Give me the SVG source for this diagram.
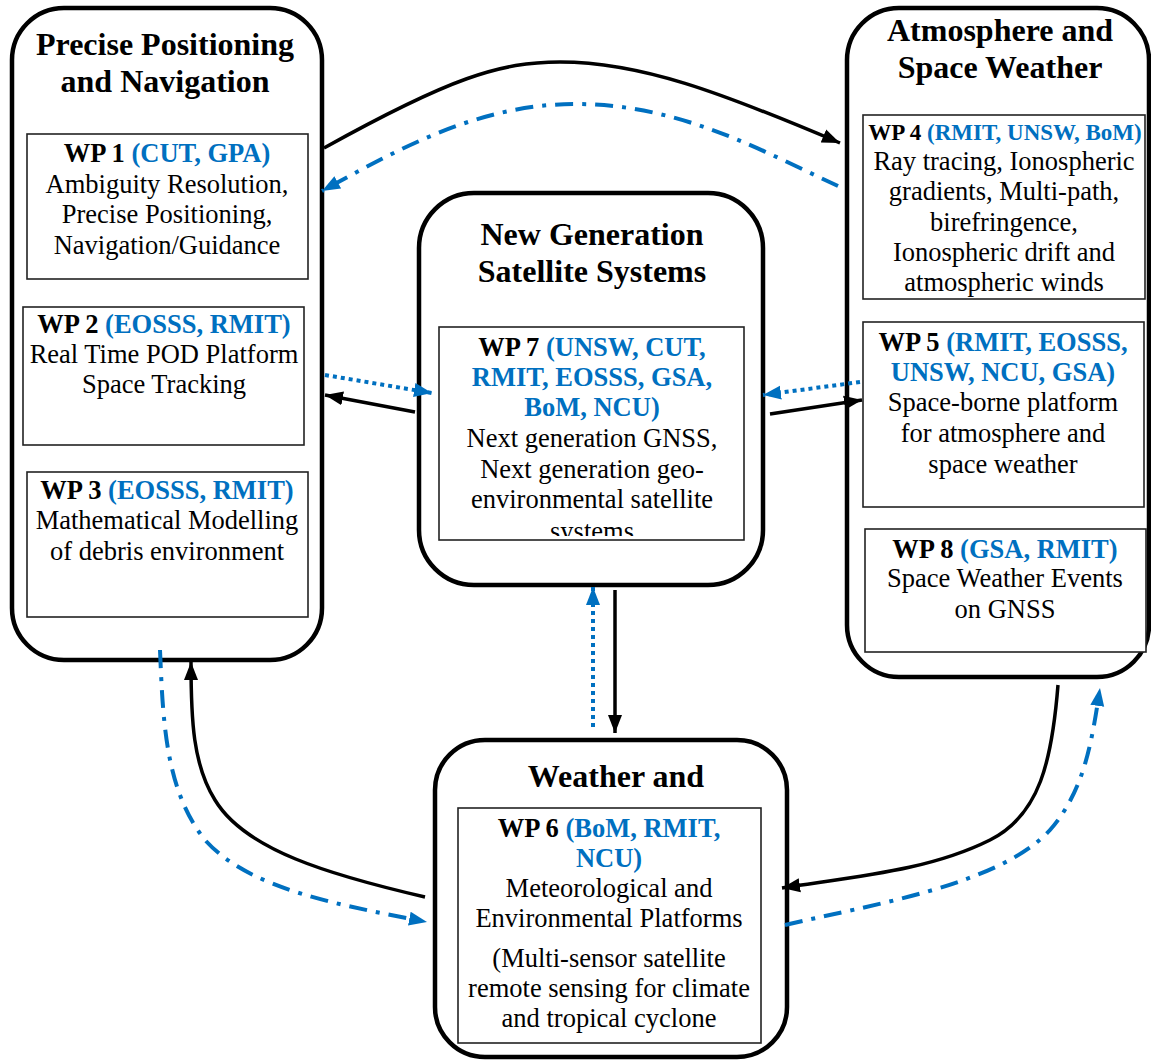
<svg xmlns="http://www.w3.org/2000/svg" width="1151" height="1061" viewBox="0 0 1151 1061">
<style>
.cont{fill:#fff;stroke:#000;stroke-width:4.5}
.box{fill:#fff;stroke:#222;stroke-width:1.6}
text{font-family:"Liberation Serif","Times New Roman",serif;text-anchor:middle;fill:#000}
.title{font-size:32px;font-weight:bold}
.wp{font-size:26.5px;font-weight:bold}
.wps{font-size:23px;font-weight:bold}
.body{font-size:26.5px}
.b{fill:#0070C0}
.blk{fill:none;stroke:#000;stroke-width:3.5}
.dd{fill:none;stroke:#0070C0;stroke-width:4;stroke-dasharray:18 9 4 9}
.dot{fill:none;stroke:#0070C0;stroke-width:4;stroke-dasharray:4 4}
</style>
<defs>
<marker id="ak" markerUnits="userSpaceOnUse" markerWidth="20" markerHeight="16" viewBox="0 0 20 16" refX="18" refY="8" orient="auto"><path d="M0,1 L18,8 L0,15 Z" fill="#000"/></marker>
<marker id="ab" markerUnits="userSpaceOnUse" markerWidth="20" markerHeight="16" viewBox="0 0 20 16" refX="18" refY="8" orient="auto"><path d="M0,1 L18,8 L0,15 Z" fill="#0070C0"/></marker>
<clipPath id="c7"><rect x="440" y="328" width="303" height="208"/></clipPath>
</defs>

<g id="node-ppn">
<rect class="cont" x="12" y="8" width="310" height="652" rx="52"/>
<text class="title" x="165" y="55">Precise Positioning</text>
<text class="title" x="165" y="92">and Navigation</text>
</g>
<g id="node-wp1">
<rect class="box" x="27" y="134" width="281" height="145"/>
<text class="wp" x="167" y="162">WP 1 <tspan class="b">(CUT, GPA)</tspan></text>
<text class="body" x="167" y="193">Ambiguity Resolution,</text>
<text class="body" x="167" y="223">Precise Positioning,</text>
<text class="body" x="167" y="254">Navigation/Guidance</text>
</g>
<g id="node-wp2">
<rect class="box" x="23" y="307" width="281" height="138"/>
<text class="wp" x="164" y="333">WP 2 <tspan class="b">(EOSSS, RMIT)</tspan></text>
<text class="body" x="164" y="363">Real Time POD Platform</text>
<text class="body" x="164" y="393">Space Tracking</text>
</g>
<g id="node-wp3">
<rect class="box" x="27" y="472" width="281" height="145"/>
<text class="wp" x="167" y="499">WP 3 <tspan class="b">(EOSSS, RMIT)</tspan></text>
<text class="body" x="167" y="529">Mathematical Modelling</text>
<text class="body" x="167" y="560">of debris environment</text>
</g>

<g id="node-asw">
<rect class="cont" x="847" y="8" width="302" height="669" rx="52"/>
<text class="title" x="1000" y="41">Atmosphere and</text>
<text class="title" x="1000" y="78">Space Weather</text>
</g>
<g id="node-wp4">
<rect class="box" x="863" y="115" width="282" height="184"/>
<text class="wps" x="1005" y="140">WP 4 <tspan class="b">(RMIT, UNSW, BoM)</tspan></text>
<text class="body" x="1004" y="170">Ray tracing, Ionospheric</text>
<text class="body" x="1004" y="200">gradients, Multi-path,</text>
<text class="body" x="1004" y="231">birefringence,</text>
<text class="body" x="1004" y="261">Ionospheric drift and</text>
<text class="body" x="1004" y="291">atmospheric winds</text>
</g>
<g id="node-wp5">
<rect class="box" x="863" y="322" width="281" height="185"/>
<text class="wp" x="1003" y="351">WP 5 <tspan class="b">(RMIT, EOSSS,</tspan></text>
<text class="wp b" x="1003" y="381">UNSW, NCU, GSA)</text>
<text class="body" x="1003" y="411">Space-borne platform</text>
<text class="body" x="1003" y="442">for atmosphere and</text>
<text class="body" x="1003" y="473">space weather</text>
</g>
<g id="node-wp8">
<rect class="box" x="865" y="529" width="281" height="123"/>
<text class="wp" x="1005" y="558">WP 8 <tspan class="b">(GSA, RMIT)</tspan></text>
<text class="body" x="1005" y="587">Space Weather Events</text>
<text class="body" x="1005" y="618">on GNSS</text>
</g>

<g id="node-ngss">
<rect class="cont" x="419" y="193" width="344" height="392" rx="55"/>
<text class="title" x="592" y="245">New Generation</text>
<text class="title" x="592" y="282">Satellite Systems</text>
</g>
<g id="node-wp7">
<rect class="box" x="439" y="327" width="305" height="213"/>
<g clip-path="url(#c7)">
<text class="wp" x="592" y="356">WP 7 <tspan class="b">(UNSW, CUT,</tspan></text>
<text class="wp b" x="592" y="386">RMIT, EOSSS, GSA,</text>
<text class="wp b" x="592" y="416">BoM, NCU)</text>
<text class="body" x="592" y="447">Next generation GNSS,</text>
<text class="body" x="592" y="478">Next generation geo-</text>
<text class="body" x="592" y="508">environmental satellite</text>
<text class="body" x="592" y="540">systems</text>
</g>
</g>

<g id="node-weather">
<rect class="cont" x="435" y="740" width="352" height="317" rx="50"/>
<text class="title" x="616" y="787">Weather and</text>
</g>
<g id="node-wp6">
<rect class="box" x="458" y="808" width="303" height="235"/>
<text class="wp" x="609" y="837">WP 6 <tspan class="b">(BoM, RMIT,</tspan></text>
<text class="wp b" x="609" y="867">NCU)</text>
<text class="body" x="609" y="897">Meteorological and</text>
<text class="body" x="609" y="927">Environmental Platforms</text>
<text class="body" x="609" y="967">(Multi-sensor satellite</text>
<text class="body" x="609" y="997">remote sensing for climate</text>
<text class="body" x="609" y="1027">and tropical cyclone</text>
</g>

<g id="connectors">
<path class="blk" marker-end="url(#ak)" d="M324,148 C450,78 500,62 560,62 C640,62 720,92 840,143"/>
<path class="dd" marker-end="url(#ab)" d="M838,186 C760,150 680,104 575,104 C480,104 400,148 322,191"/>
<path class="dot" marker-end="url(#ab)" d="M325,375 L432,393"/>
<path class="blk" marker-end="url(#ak)" d="M415,412 L325,395"/>
<path class="dot" marker-end="url(#ab)" d="M860,382 L763,395"/>
<path class="blk" marker-end="url(#ak)" d="M770,414 L862,400"/>
<path class="dot" marker-end="url(#ab)" d="M593,727 L593,587"/>
<path class="blk" marker-end="url(#ak)" d="M615,590 L615,733"/>
<path class="blk" marker-end="url(#ak)" d="M425,897 C330,875 245,850 215,800 C193,765 191,720 191,662"/>
<path class="dd" marker-end="url(#ab)" d="M160,650 C163,720 165,790 205,840 C250,890 340,905 427,922"/>
<path class="blk" marker-end="url(#ak)" d="M1058,685 C1052,760 1040,815 990,840 C930,870 860,876 782,888"/>
<path class="dd" marker-end="url(#ab)" d="M785,925 C870,905 1000,885 1050,830 C1085,790 1092,740 1100,688"/>
</g>
</svg>
